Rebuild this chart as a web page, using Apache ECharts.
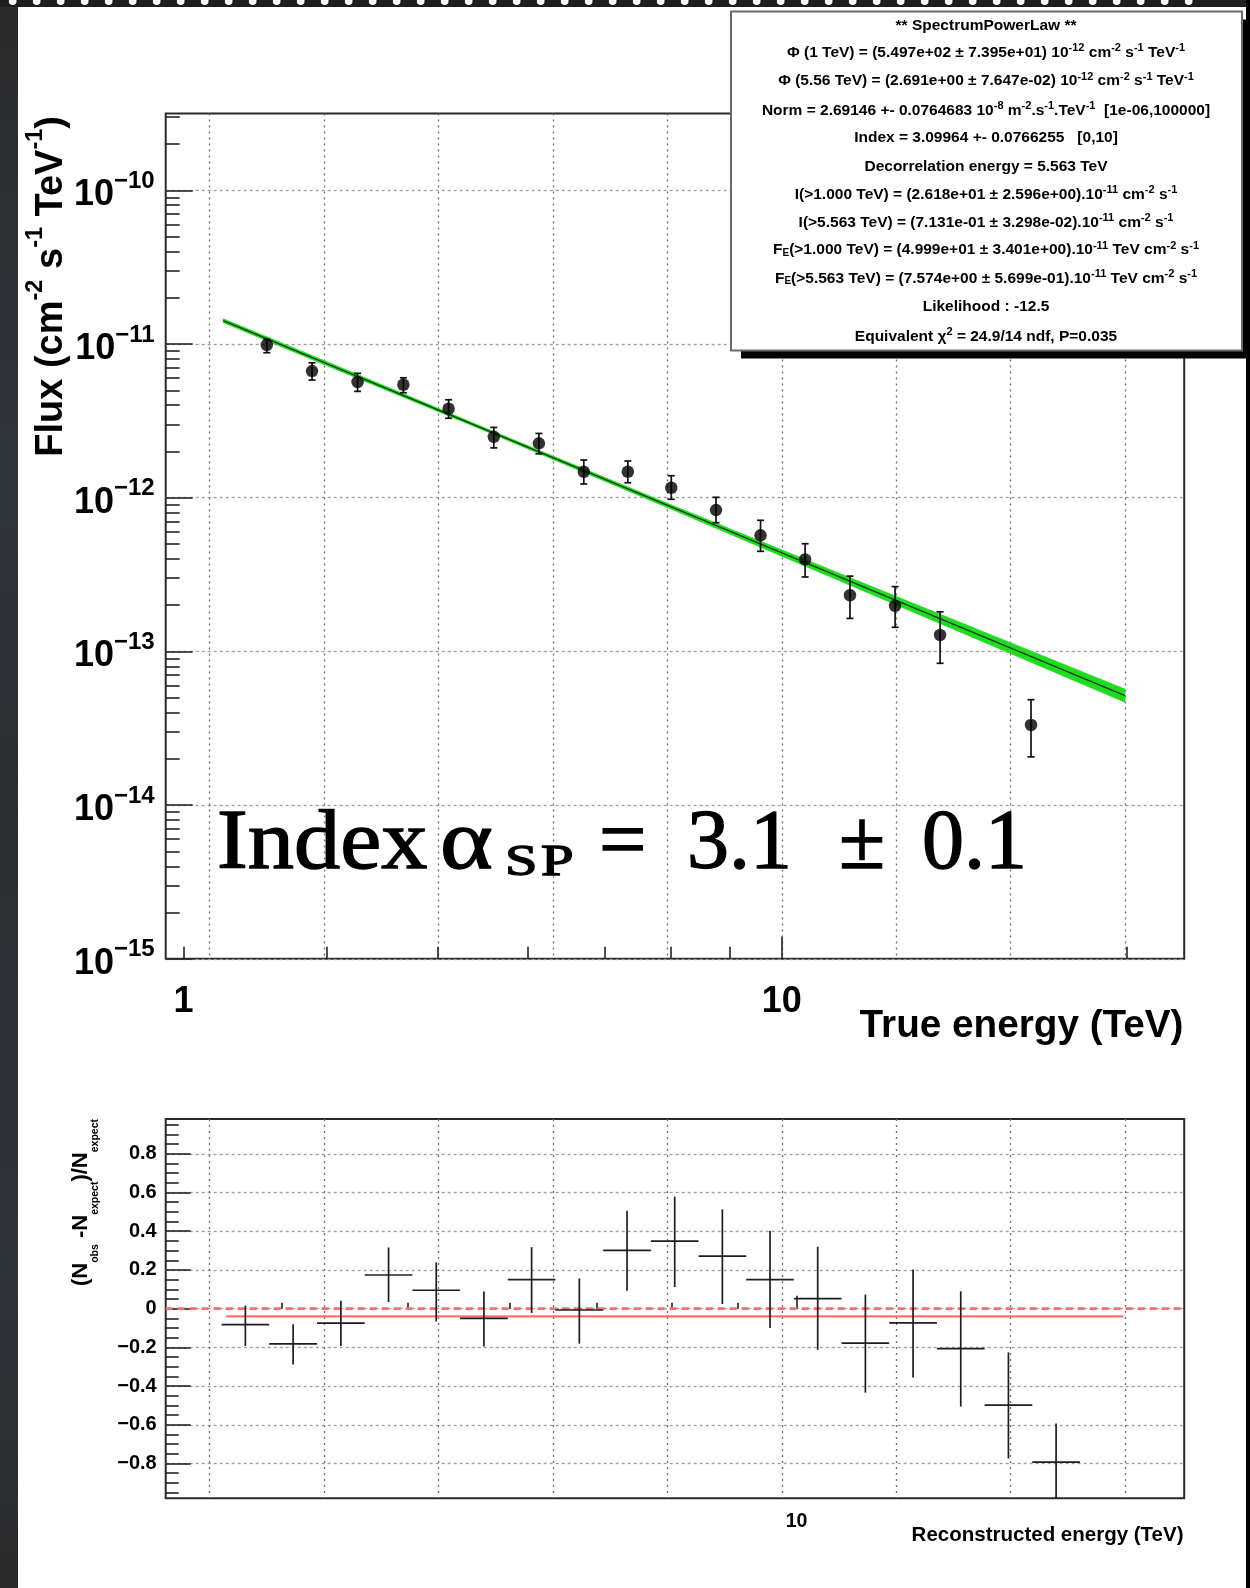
<!DOCTYPE html>
<html>
<head>
<meta charset="utf-8">
<title>Spectrum power-law fit</title>
<script src="https://cdn.jsdelivr.net/npm/echarts@6/dist/echarts.min.js"></script>
<style>
  html, body { margin: 0; padding: 0; background: #ffffff; }
  #chart { width: 1250px; height: 1588px; }
</style>
</head>
<body>
<div id="chart"></div>
<script>
// ---- Flux points: true energy (TeV), flux and 1-sigma bounds (cm^-2 s^-1 TeV^-1)
const fluxEnergy = [3.548, 3.886, 4.259, 4.670, 5.115, 5.602, 6.134, 6.714, 7.336, 8.006, 8.760, 9.581, 10.48, 11.47, 12.56, 13.75, 16.51];
const fluxValue  = [9.85e-12, 6.67e-12, 5.66e-12, 5.43e-12, 3.79e-12, 2.49e-12, 2.26e-12, 1.476e-12, 1.476e-12, 1.161e-12, 8.31e-13, 5.69e-13, 3.97e-13, 2.32e-13, 1.98e-13, 1.278e-13, 3.32e-14];
const fluxUpper  = [1.073e-11, 7.55e-12, 6.45e-12, 6.03e-12, 4.34e-12, 2.87e-12, 2.62e-12, 1.76e-12, 1.733e-12, 1.39e-12, 1.006e-12, 7.13e-13, 5.02e-13, 3.09e-13, 2.64e-13, 1.81e-13, 4.85e-14];
const fluxLower  = [8.78e-12, 5.83e-12, 4.92e-12, 4.82e-12, 3.29e-12, 2.11e-12, 1.93e-12, 1.228e-12, 1.252e-12, 9.77e-13, 6.88e-13, 4.48e-13, 3.05e-13, 1.64e-13, 1.435e-13, 8.37e-14, 2.06e-14];

// ---- Power-law fit line and its confidence band
const fitEnergy  = [3.25, 5.563, 19.95];
const fitFlux    = [1.42e-11, 2.691e-12, 5.15e-14];
const bandEnergy = [3.25, 4.0, 5.563, 8.0, 12.0, 19.95];
const bandUpper  = [1.46e-11, 7.70e-12, 2.75e-12, 9.00e-13, 2.63e-13, 5.68e-14];
const bandLower  = [1.38e-11, 7.26e-12, 2.635e-12, 8.45e-13, 2.34e-13, 4.67e-14];

// ---- Residuals per reconstructed-energy bin
const residualBinEdges = [3.590, 3.908, 4.256, 4.633, 5.044, 5.491, 5.978, 6.508, 7.086, 7.714, 8.398, 9.142, 9.952, 10.835, 11.795, 12.841, 13.980, 15.219, 16.568];
const residualValue = [-0.083, -0.182, -0.075, 0.174, 0.095, -0.050, 0.150, -0.007, 0.301, 0.349, 0.271, 0.150, 0.052, -0.178, -0.074, -0.207, -0.499, -0.793];
const residualUpper = [0.016, -0.080, 0.041, 0.316, 0.239, 0.088, 0.318, 0.156, 0.506, 0.579, 0.513, 0.401, 0.320, 0.073, 0.202, 0.090, -0.226, -0.593];
const residualLower = [-0.193, -0.288, -0.193, 0.034, -0.066, -0.195, -0.022, -0.181, 0.092, 0.112, 0.024, -0.100, -0.213, -0.434, -0.356, -0.506, -0.774, -1.0];
const residualMean = -0.04;
const residualMeanEnergy = [3.62, 17.9];

// ---- Axis ranges and ticks
const trueEnergyRange = [2.895, 22.47];
const recoEnergyRange = [3.25, 19.95];
const fluxRange = [1e-15, 3.162e-10];
const residualRange = [-0.98, 0.98];

const trueEnergyMinorTicks = [3, 4, 5, 6, 7, 8, 9, 20];
const trueEnergyMajorTicks = [10];
const trueEnergyLabelValues = [3, 10];
const trueEnergyLabelTexts = ['1', '10'];
const recoEnergyMinorTicks = [4, 5, 6, 7, 8, 9];
const recoEnergyMajorTicks = [10];
const recoEnergyLabelTexts = ['10'];
const gridEnergies = [3.162, 3.981, 5.012, 6.310, 7.943, 10, 12.59, 15.85, 19.95];
const fluxDecades = [-15, -14, -13, -12, -11, -10];
const residualTicks = [-0.8, -0.6, -0.4, -0.2, 0, 0.2, 0.4, 0.6, 0.8];

const fluxDecadeValues = fluxDecades.map(d => Math.pow(10, d));
const fluxMinorTicks = [];
fluxDecades.forEach(d => {
  for (let m = 2; m <= 9; m++) {
    const v = m * Math.pow(10, d);
    if (v <= fluxRange[1]) fluxMinorTicks.push(v);
  }
});
const residualMinorTicks = [];
for (let k = -19; k <= 19; k++) if (k % 4 !== 0) residualMinorTicks.push(k * 0.05);

// ---- Fit summary box
const statsLines = [
  '{n|** SpectrumPowerLaw **}',
  '{n|Φ (1 TeV) = (5.497e+02 ± 7.395e+01) 10}{u|-12}{n| cm}{u|-2}{n| s}{u|-1}{n| TeV}{u|-1}',
  '{n|Φ (5.56 TeV) = (2.691e+00 ± 7.647e-02) 10}{u|-12}{n| cm}{u|-2}{n| s}{u|-1}{n| TeV}{u|-1}',
  '{n|Norm = 2.69146 +- 0.0764683 10}{u|-8}{n| m}{u|-2}{n|.s}{u|-1}{n|.TeV}{u|-1}{n|  [1e-06,100000]}',
  '{n|Index = 3.09964 +- 0.0766255   [0,10]}',
  '{n|Decorrelation energy = 5.563 TeV}',
  '{n|I(>1.000 TeV) = (2.618e+01 ± 2.596e+00).10}{u|-11}{n| cm}{u|-2}{n| s}{u|-1}',
  '{n|I(>5.563 TeV) = (7.131e-01 ± 3.298e-02).10}{u|-11}{n| cm}{u|-2}{n| s}{u|-1}',
  '{n|F}{d|E}{n|(>1.000 TeV) = (4.999e+01 ± 3.401e+00).10}{u|-11}{n| TeV cm}{u|-2}{n| s}{u|-1}',
  '{n|F}{d|E}{n|(>5.563 TeV) = (7.574e+00 ± 5.699e-01).10}{u|-11}{n| TeV cm}{u|-2}{n| s}{u|-1}',
  '{n|Likelihood : -12.5}',
  '{n|Equivalent χ}{u|2}{n| = 24.9/14 ndf, P=0.035}'
];

// ---- Styling
const SANS = "'Liberation Sans', Arial, Helvetica, sans-serif";
const SERIF = "'Liberation Serif', 'DejaVu Serif', serif";
const INK = '#000000';
const TICK = { color: '#222222', width: 1.6 };
const HGRID = { color: '#9c9c9c', width: 1.3, type: [3, 3] };
const VGRID = { color: '#6e6e6e', width: 1.3, type: [2, 4] };

function closestText(values, texts, v) {
  let best = 0, bd = Infinity;
  values.forEach((c, i) => {
    const d = Math.min(Math.abs(c - v) / c, Math.abs(Math.log10(c) - v));
    if (d < bd) { bd = d; best = i; }
  });
  return texts[best];
}

function logAxis(gridIndex, range, extra) {
  return Object.assign({
    type: 'log', logBase: 10, gridIndex: gridIndex, position: 'bottom',
    min: range[0], max: range[1],
    axisLine: { show: false },
    axisTick: { show: false },
    axisLabel: { show: false },
    splitLine: { show: false },
    minorTick: { show: false },
    axisPointer: { show: false }
  }, extra);
}

const xAxes = [
  // 0: true energy, minor ticks + labels
  logAxis(0, trueEnergyRange, {
    axisTick: { show: true, inside: true, length: 12, customValues: trueEnergyMinorTicks, lineStyle: TICK },
    axisLabel: {
      show: true, customValues: trueEnergyLabelValues, margin: 25,
      fontFamily: SANS, fontWeight: 'bold', fontSize: 36, lineHeight: 36, color: INK,
      formatter: v => closestText(trueEnergyLabelValues, trueEnergyLabelTexts, v)
    }
  }),
  // 1: true energy, decade tick
  logAxis(0, trueEnergyRange, {
    axisTick: { show: true, inside: true, length: 22, customValues: trueEnergyMajorTicks, lineStyle: TICK }
  }),
  // 2: vertical grid lines of the flux panel
  logAxis(0, trueEnergyRange, {
    axisTick: { show: false, customValues: gridEnergies },
    splitLine: { show: true, lineStyle: VGRID }
  }),
  // 3: reconstructed energy, minor ticks
  logAxis(1, recoEnergyRange, {
    axisTick: { show: true, inside: true, length: 6, customValues: recoEnergyMinorTicks, lineStyle: TICK }
  }),
  // 4: reconstructed energy, decade tick + label
  logAxis(1, recoEnergyRange, {
    axisTick: { show: true, inside: true, length: 13, customValues: recoEnergyMajorTicks, lineStyle: TICK },
    axisLabel: {
      show: true, customValues: recoEnergyMajorTicks, margin: 13,
      fontFamily: SANS, fontWeight: 'bold', fontSize: 19.5, lineHeight: 20, color: INK,
      formatter: v => closestText(recoEnergyMajorTicks, recoEnergyLabelTexts, v)
    }
  }),
  // 5: vertical grid lines of the residual panel
  logAxis(1, trueEnergyRange, {
    axisTick: { show: false, customValues: gridEnergies },
    splitLine: { show: true, lineStyle: VGRID }
  })
];

const yAxes = [
  // 0: flux, decades
  {
    type: 'log', logBase: 10, gridIndex: 0, position: 'left',
    min: fluxRange[0], max: fluxRange[1],
    axisLine: { show: false },
    axisTick: { show: true, inside: true, length: 27, customValues: fluxDecadeValues, lineStyle: TICK },
    axisLabel: {
      show: true, customValues: fluxDecadeValues, margin: 11, padding: [2, 0, 0, 0],
      formatter: v => {
        const e = v < 0 ? Math.round(v) : Math.round(Math.log10(v));
        return '{m|10}{e|−' + Math.abs(e) + '}';
      },
      rich: {
        m: { fontFamily: SANS, fontWeight: 'bold', fontSize: 36, lineHeight: 44, verticalAlign: 'bottom', color: INK },
        e: { fontFamily: SANS, fontWeight: 'bold', fontSize: 24, lineHeight: 12, verticalAlign: 'top', color: INK }
      }
    },
    splitLine: { show: true, lineStyle: HGRID },
    minorTick: { show: false }
  },
  // 1: flux, minor ticks
  {
    type: 'log', logBase: 10, gridIndex: 0, position: 'left',
    min: fluxRange[0], max: fluxRange[1],
    axisLine: { show: false },
    axisTick: { show: true, inside: true, length: 14, customValues: fluxMinorTicks, lineStyle: TICK },
    axisLabel: { show: false },
    splitLine: { show: false }
  },
  // 2: residual, major ticks + labels
  {
    type: 'value', gridIndex: 1, position: 'left',
    min: residualRange[0], max: residualRange[1],
    axisLine: { show: false },
    axisTick: { show: true, inside: true, length: 25, customValues: residualTicks, lineStyle: TICK },
    axisLabel: {
      show: true, customValues: residualTicks, margin: 9,
      fontFamily: SANS, fontWeight: 'bold', fontSize: 20, color: INK,
      formatter: v => Math.abs(v) < 1e-9 ? '0' : (v < 0 ? '−' : '') + Math.abs(v).toFixed(1)
    },
    splitLine: { show: true, lineStyle: HGRID }
  },
  // 3: residual, minor ticks
  {
    type: 'value', gridIndex: 1, position: 'left',
    min: residualRange[0], max: residualRange[1],
    axisLine: { show: false },
    axisTick: { show: true, inside: true, length: 13, customValues: residualMinorTicks, lineStyle: TICK },
    axisLabel: { show: false },
    splitLine: { show: false }
  }
];

// error bars with caps for the flux points
function renderFluxErrors(params, api) {
  const e = api.value(0);
  const top = api.coord([e, api.value(3)]);
  const bot = api.coord([e, api.value(2)]);
  const cap = 3.5;
  const st = { stroke: '#111111', lineWidth: 1.7 };
  return {
    type: 'group',
    children: [
      { type: 'line', shape: { x1: top[0], y1: top[1], x2: bot[0], y2: bot[1] }, style: st },
      { type: 'line', shape: { x1: top[0] - cap, y1: top[1], x2: top[0] + cap, y2: top[1] }, style: st },
      { type: 'line', shape: { x1: bot[0] - cap, y1: bot[1], x2: bot[0] + cap, y2: bot[1] }, style: st }
    ]
  };
}

// confidence band drawn as one polygon
function renderBand(params, api) {
  if (params.dataIndex !== 0) return null;
  const pts = [];
  bandEnergy.forEach((e, i) => pts.push(api.coord([e, bandUpper[i]])));
  for (let i = bandEnergy.length - 1; i >= 0; i--) pts.push(api.coord([bandEnergy[i], bandLower[i]]));
  return { type: 'polygon', shape: { points: pts }, style: { fill: '#1fdc1f', stroke: '#1fdc1f', lineWidth: 0.8 } };
}

// residual crosses: bin width and error
function renderResidual(params, api) {
  const lo = api.coord([api.value(0), api.value(1)]);
  const hi = api.coord([api.value(2), api.value(1)]);
  const cx = (lo[0] + hi[0]) / 2;
  const cs = params.coordSys;
  let yt = api.coord([api.value(0), api.value(4)])[1];
  let yb = api.coord([api.value(0), api.value(3)])[1];
  yt = Math.max(yt, cs.y); yb = Math.min(yb, cs.y + cs.height);
  const st = { stroke: '#1e1e1e', lineWidth: 1.7 };
  return {
    type: 'group',
    children: [
      { type: 'line', shape: { x1: lo[0], y1: lo[1], x2: hi[0], y2: hi[1] }, style: st },
      { type: 'line', shape: { x1: cx, y1: yt, x2: cx, y2: yb }, style: st }
    ]
  };
}

const series = [
  {
    type: 'custom', name: 'band', xAxisIndex: 0, yAxisIndex: 0, z: 2, silent: true,
    renderItem: renderBand,
    encode: { x: 0, y: [1, 2] },
    data: bandEnergy.map((e, i) => [e, bandLower[i], bandUpper[i]])
  },
  {
    type: 'line', name: 'fit', xAxisIndex: 0, yAxisIndex: 0, z: 3, silent: true,
    showSymbol: false, symbol: 'none',
    lineStyle: { color: '#0a3a0a', width: 1.3 },
    data: fitEnergy.map((e, i) => [e, fitFlux[i]])
  },
  {
    type: 'custom', name: 'flux errors', xAxisIndex: 0, yAxisIndex: 0, z: 4, silent: true,
    renderItem: renderFluxErrors,
    encode: { x: 0, y: [1, 2, 3] },
    data: fluxEnergy.map((e, i) => [e, fluxValue[i], fluxLower[i], fluxUpper[i]])
  },
  {
    type: 'scatter', name: 'flux', xAxisIndex: 0, yAxisIndex: 0, z: 5, silent: true,
    symbol: 'circle', symbolSize: 12.5,
    itemStyle: { color: '#000000' },
    data: fluxEnergy.map((e, i) => [e, fluxValue[i]])
  },
  {
    type: 'line', name: 'zero', xAxisIndex: 3, yAxisIndex: 2, z: 2, silent: true,
    showSymbol: false, symbol: 'none',
    lineStyle: { color: '#ff6a6a', width: 2.6, type: [7, 5] },
    data: [[recoEnergyRange[0], 0], [recoEnergyRange[1], 0]]
  },
  {
    type: 'line', name: 'mean residual', xAxisIndex: 3, yAxisIndex: 2, z: 2, silent: true,
    showSymbol: false, symbol: 'none',
    lineStyle: { color: '#ff7070', width: 2.2 },
    data: residualMeanEnergy.map(e => [e, residualMean])
  },
  {
    type: 'custom', name: 'residuals', xAxisIndex: 3, yAxisIndex: 2, z: 4, silent: true,
    renderItem: renderResidual,
    encode: { x: [0, 2], y: [1, 3, 4] },
    data: residualValue.map((v, i) => [residualBinEdges[i], v, residualBinEdges[i + 1], residualLower[i], residualUpper[i]])
  }
];

// page frame, fit summary and titles
const graphics = [];
graphics.push({
  type: 'rect', z: 100, silent: true,
  shape: { x: 0, y: 0, width: 18, height: 1588 },
  style: {
    fill: new echarts.graphic.LinearGradient(0, 0, 0, 1, [
      { offset: 0, color: '#2a2a2a' }, { offset: 0.3, color: '#31363d' },
      { offset: 0.5, color: '#2c2d31' }, { offset: 0.8, color: '#30353b' }, { offset: 1, color: '#2a2a2a' }
    ])
  }
});
graphics.push({ type: 'rect', z: 100, silent: true, shape: { x: 0, y: 0, width: 1250, height: 7 }, style: { fill: '#1e1e1e' } });
for (let k = 0; k < 50; k++) {
  graphics.push({ type: 'circle', z: 101, silent: true, shape: { cx: 12.7 + 24 * k, cy: 1.2, r: 3.8 }, style: { fill: '#ffffff' } });
}
graphics.push({ type: 'rect', z: 100, silent: true, shape: { x: 1246, y: 0, width: 4, height: 1588 }, style: { fill: '#000000' } });

// fit summary box with shadow
graphics.push({ type: 'rect', z: 100, silent: true, shape: { x: 741, y: 19.5, width: 511, height: 339 }, style: { fill: '#000000' } });
graphics.push({ type: 'rect', z: 101, silent: true, shape: { x: 731, y: 11.5, width: 511, height: 339 }, style: { fill: '#ffffff', stroke: '#6a6a6a', lineWidth: 2 } });
const statsRich = {
  n: { fontFamily: SANS, fontWeight: 'bold', fontSize: 15.5, lineHeight: 18, verticalAlign: 'bottom', fill: '#000' },
  u: { fontFamily: SANS, fontWeight: 'bold', fontSize: 11, lineHeight: 8, verticalAlign: 'top', fill: '#000' },
  d: { fontFamily: SANS, fontWeight: 'bold', fontSize: 10, lineHeight: 8, verticalAlign: 'bottom', fill: '#000' }
};
const statsY = [24.3, 51.7, 80.0, 109.4, 136.8, 166.1, 193.5, 221.8, 249.2, 277.6, 305.9, 335.3];
statsLines.forEach((t, i) => {
  graphics.push({
    type: 'text', z: 102, silent: true, x: 986, y: statsY[i],
    style: { text: t, rich: statsRich, align: 'center', verticalAlign: 'middle', fill: '#000' }
  });
});

// axis titles
graphics.push({
  type: 'text', z: 102, silent: true, x: 1183.5, y: 1026,
  style: { text: 'True energy (TeV)', fontFamily: SANS, fontWeight: 'bold', fontSize: 38.7, lineHeight: 40, fill: INK, align: 'right', verticalAlign: 'middle' }
});
graphics.push({
  type: 'text', z: 102, silent: true, x: 47, y: 116, rotation: Math.PI / 2,
  style: {
    text: '{t|Flux (cm}{u|-2}{t| s}{u|-1}{t| TeV}{u|-1}{t|)}',
    align: 'right', verticalAlign: 'middle',
    rich: {
      t: { fontFamily: SANS, fontWeight: 'bold', fontSize: 38, lineHeight: 47, verticalAlign: 'bottom', fill: INK },
      u: { fontFamily: SANS, fontWeight: 'bold', fontSize: 23.5, lineHeight: 12, verticalAlign: 'top', fill: INK }
    }
  }
});
graphics.push({
  type: 'text', z: 102, silent: true, x: 1183.5, y: 1535,
  style: { text: 'Reconstructed energy (TeV)', fontFamily: SANS, fontWeight: 'bold', fontSize: 20.5, lineHeight: 22, fill: INK, align: 'right', verticalAlign: 'middle' }
});
graphics.push({
  type: 'text', z: 102, silent: true, x: 85, y: 1119, rotation: Math.PI / 2,
  style: {
    text: '{t|(N}{s|obs}{t| -N}{s|expect}{t|)/N}{s|expect}',
    align: 'right', verticalAlign: 'middle',
    rich: {
      t: { fontFamily: SANS, fontWeight: 'bold', fontSize: 22, lineHeight: 22, verticalAlign: 'top', fill: INK },
      s: { fontFamily: SANS, fontWeight: 'bold', fontSize: 10.5, lineHeight: 31, verticalAlign: 'bottom', fill: INK }
    }
  }
});

// spectral index annotation
const idxFont = { fontFamily: SERIF, fontWeight: 'normal', fontSize: 84, fill: INK, stroke: INK, lineWidth: 1.4, verticalAlign: 'middle', align: 'left' };
[['Index', 217, 1.1], ['α', 440, 1.2], ['=', 599, 1.0], ['3.1', 687, 1.0], ['±', 839, 1.0], ['0.1', 922, 1.0]].forEach(p => {
  graphics.push({ type: 'text', z: 102, silent: true, x: p[1], y: 845.5, scaleX: p[2], style: Object.assign({ text: p[0] }, idxFont) });
});
graphics.push({ type: 'text', z: 102, silent: true, x: 505, y: 863, scaleX: 1.3, style: Object.assign({}, idxFont, { text: 'S', fontSize: 45 }) });
graphics.push({ type: 'text', z: 102, silent: true, x: 541, y: 863, scaleX: 1.3, style: Object.assign({}, idxFont, { text: 'P', fontSize: 45 }) });

const option = {
  animation: false,
  backgroundColor: '#ffffff',
  grid: [
    { left: 165.7, top: 113.5, width: 1018.5, height: 845.3, show: true, borderColor: '#2a2a2a', borderWidth: 2, backgroundColor: 'transparent', containLabel: false, outerBoundsMode: 'none' },
    { left: 165.7, top: 1119, width: 1018.5, height: 379.3, show: true, borderColor: '#2a2a2a', borderWidth: 2, backgroundColor: 'transparent', containLabel: false, outerBoundsMode: 'none' }
  ],
  xAxis: xAxes,
  yAxis: yAxes,
  series: series,
  graphic: graphics
};

const chart = echarts.init(document.getElementById('chart'), null, { renderer: 'canvas', width: 1250, height: 1588 });
chart.setOption(option);
</script>
</body>
</html>
